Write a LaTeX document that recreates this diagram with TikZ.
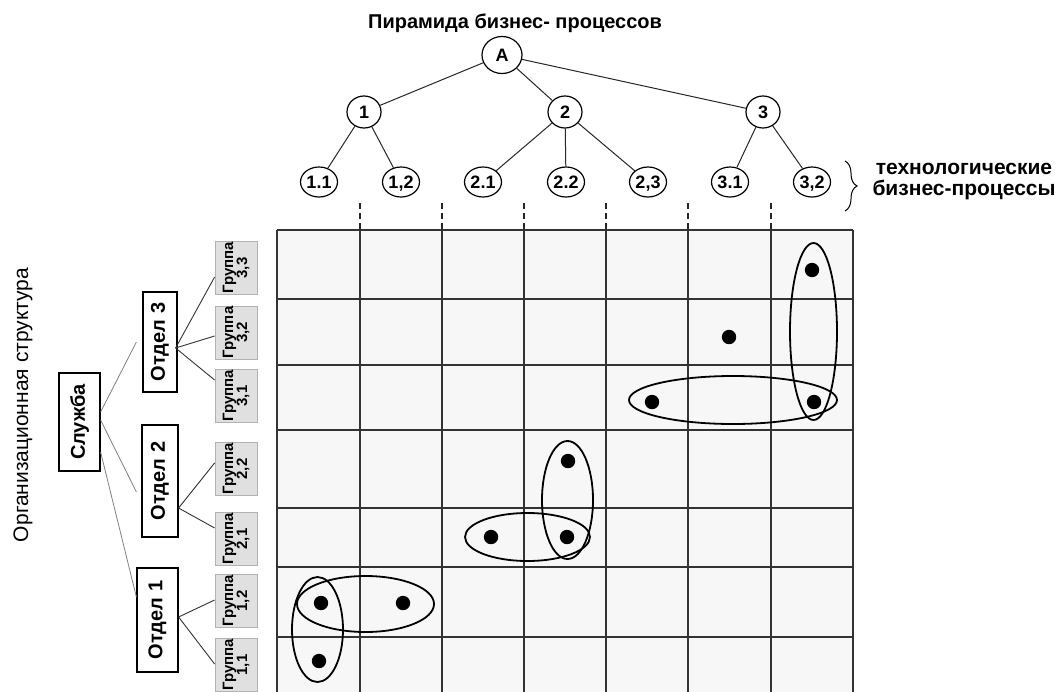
\documentclass[tikz,border=0pt]{standalone}
\usepackage{fontspec}
\setmainfont{Liberation Sans}
\usetikzlibrary{shapes.geometric,decorations.pathreplacing}
\begin{document}
\begin{tikzpicture}[x=1pt,y=-1pt,
  treenode/.style={ellipse,draw=black,line width=1.2pt,fill=white,inner sep=0pt,
    text height=13pt,text depth=0pt,
    font=\fontsize{18}{20}\selectfont\bfseries},
  edge/.style={draw=black!85,line width=1pt},
  obox/.style={draw=black,line width=1.2pt,fill=white,rotate=90,inner sep=1pt,
    font=\fontsize{20}{22}\selectfont\bfseries},
  gbox/.style={draw=black!30,line width=0.8pt,fill=black!12,rotate=90,inner sep=0.5pt,
    minimum width=53pt,minimum height=42pt,align=center,
    font=\fontsize{15}{14}\selectfont\bfseries},
  lightedge/.style={draw=black!50,line width=0.8pt},
  darkedge/.style={draw=black!80,line width=0.9pt},
  gridline/.style={draw=black!80,line width=1.2pt},
  ring/.style={draw=black,line width=1.8pt},
  dot/.style={fill=black}
]
\path[use as bounding box] (0,0) rectangle (1062,691);

% ---------- title and tree ----------
\node[font=\fontsize{20}{22}\selectfont\bfseries] (title) at (515,23) {Пирамида бизнес- процессов};

\node[treenode,minimum width=40pt,minimum height=37pt] (A) at (502,55) {A};
\node[treenode,minimum width=34pt,minimum height=32pt] (n1) at (364,112) {1};
\node[treenode,minimum width=34pt,minimum height=32pt] (n2) at (565,112) {2};
\node[treenode,minimum width=34pt,minimum height=32pt] (n3) at (763,112) {3};

\foreach \nm/\x/\t in {l11/319/1.1, l12/401/{1,2}, l21/483/2.1, l22/566/2.2, l23/648/{2,3}, l31/730/3.1, l32/812/{3,2}}{
  \node[treenode,minimum width=37pt,minimum height=30pt] (\nm) at (\x,182) {\t};
}

\draw[edge] (A) -- (n1);
\draw[edge] (A) -- (n2);
\draw[edge] (A) -- (n3);
\draw[edge] (n1) -- (l11);
\draw[edge] (n1) -- (l12);
\draw[edge] (n2) -- (l21);
\draw[edge] (n2) -- (l22);
\draw[edge] (n2) -- (l23);
\draw[edge] (n3) -- (l31);
\draw[edge] (n3) -- (l32);

% brace and label
\coordinate (bt) at (845,161);
\coordinate (bb) at (845,211);
\draw[line width=1pt,decorate,decoration={brace,amplitude=12pt}] (bt) -- (bb);
\node[font=\fontsize{21}{21}\selectfont\bfseries,align=center] (blabel) at (964,182)
  {технологические\\бизнес-процессы};

% ---------- grid ----------
\fill[black!3] (277,230) rectangle (853,692);
\foreach \y in {230,299,365,430,508,567,637}{
  \draw[gridline] (277,\y) -- (853,\y);
}
\foreach \x in {277,360,442,524,606,688,771,853}{
  \draw[gridline] (\x,230) -- (\x,692);
}
\foreach \x in {360,442,524,606,688,771}{
  \draw[draw=black!85,line width=1.1pt,dash pattern=on 6pt off 4pt] (\x,203) -- (\x,229);
}

% dots
\foreach \x/\y in {812/270, 729/337, 652/402, 814/402, 568/461, 491/537, 567/537, 321/603, 403/603, 319/661}{
  \fill[dot] (\x,\y) circle (7.2pt);
}

% ellipses
\draw[ring] (813.5,331.5) ellipse [x radius=23.5pt, y radius=88.5pt];
\draw[ring] (733,400) ellipse [x radius=104pt, y radius=24pt];
\draw[ring] (567.5,500) ellipse [x radius=25.5pt, y radius=59pt];
\draw[ring] (527.5,537) ellipse [x radius=62.5pt, y radius=24pt];
\draw[ring] (365.5,604) ellipse [x radius=68.5pt, y radius=28pt];
\draw[ring] (317.5,629.5) ellipse [x radius=25.5pt, y radius=52.5pt];

% ---------- organisation structure ----------
\node[rotate=90,font=\fontsize{21}{22}\selectfont] (orglabel) at (23,405) {Организационная структура};

\node[draw=black,line width=1.2pt,fill=white,rotate=90,inner sep=1pt,
  minimum width=98pt,minimum height=41pt,font=\fontsize{20}{22}\selectfont\bfseries] (sl) at (79.5,422) {Служба};

\node[obox,minimum width=100pt,minimum height=34pt] (o3) at (160,342) {Отдел 3};
\node[obox,minimum width=112pt,minimum height=36pt] (o2) at (160,481) {Отдел 2};
\node[obox,minimum width=104pt,minimum height=41pt] (o1) at (157.5,620) {Отдел 1};

\node[gbox] (g33) at (236,268) {Группа\\3,3};
\node[gbox] (g32) at (236,332.5) {Группа\\3,2};
\node[gbox] (g31) at (236,396) {Группа\\3,1};
\node[gbox] (g22) at (236,469) {Группа\\2,2};
\node[gbox] (g21) at (236,539) {Группа\\2,1};
\node[gbox] (g12) at (236,601) {Группа\\1,2};
\node[gbox] (g11) at (236,665) {Группа\\1,1};

\draw[lightedge] ([yshift=10pt]sl.south) -- ([xshift=-6pt]o3.north);
\draw[lightedge] ([yshift=2pt]sl.south) -- ([xshift=-5pt,yshift=-11pt]o2.north);
\draw[lightedge] ([yshift=-30pt]sl.south) -- ([yshift=23pt]o1.north);

\draw[darkedge] ([xshift=-2pt,yshift=-6pt]o3.south) -- ([yshift=-9pt]g33.north);
\draw[darkedge] ([xshift=-2pt,yshift=-6pt]o3.south) -- ([yshift=-3.5pt]g32.north);
\draw[darkedge] ([xshift=-2pt,yshift=-6pt]o3.south) -- ([yshift=16pt]g31.north);
\draw[darkedge] ([yshift=-27pt]o2.south) -- ([yshift=6pt]g22.north);
\draw[darkedge] ([yshift=-27pt]o2.south) -- ([yshift=11pt]g21.north);
\draw[darkedge] ([yshift=3pt]o1.south) -- ([yshift=1pt]g12.north);
\draw[darkedge] ([yshift=3pt]o1.south) -- ([yshift=1pt]g11.north);
\end{tikzpicture}
\end{document}
